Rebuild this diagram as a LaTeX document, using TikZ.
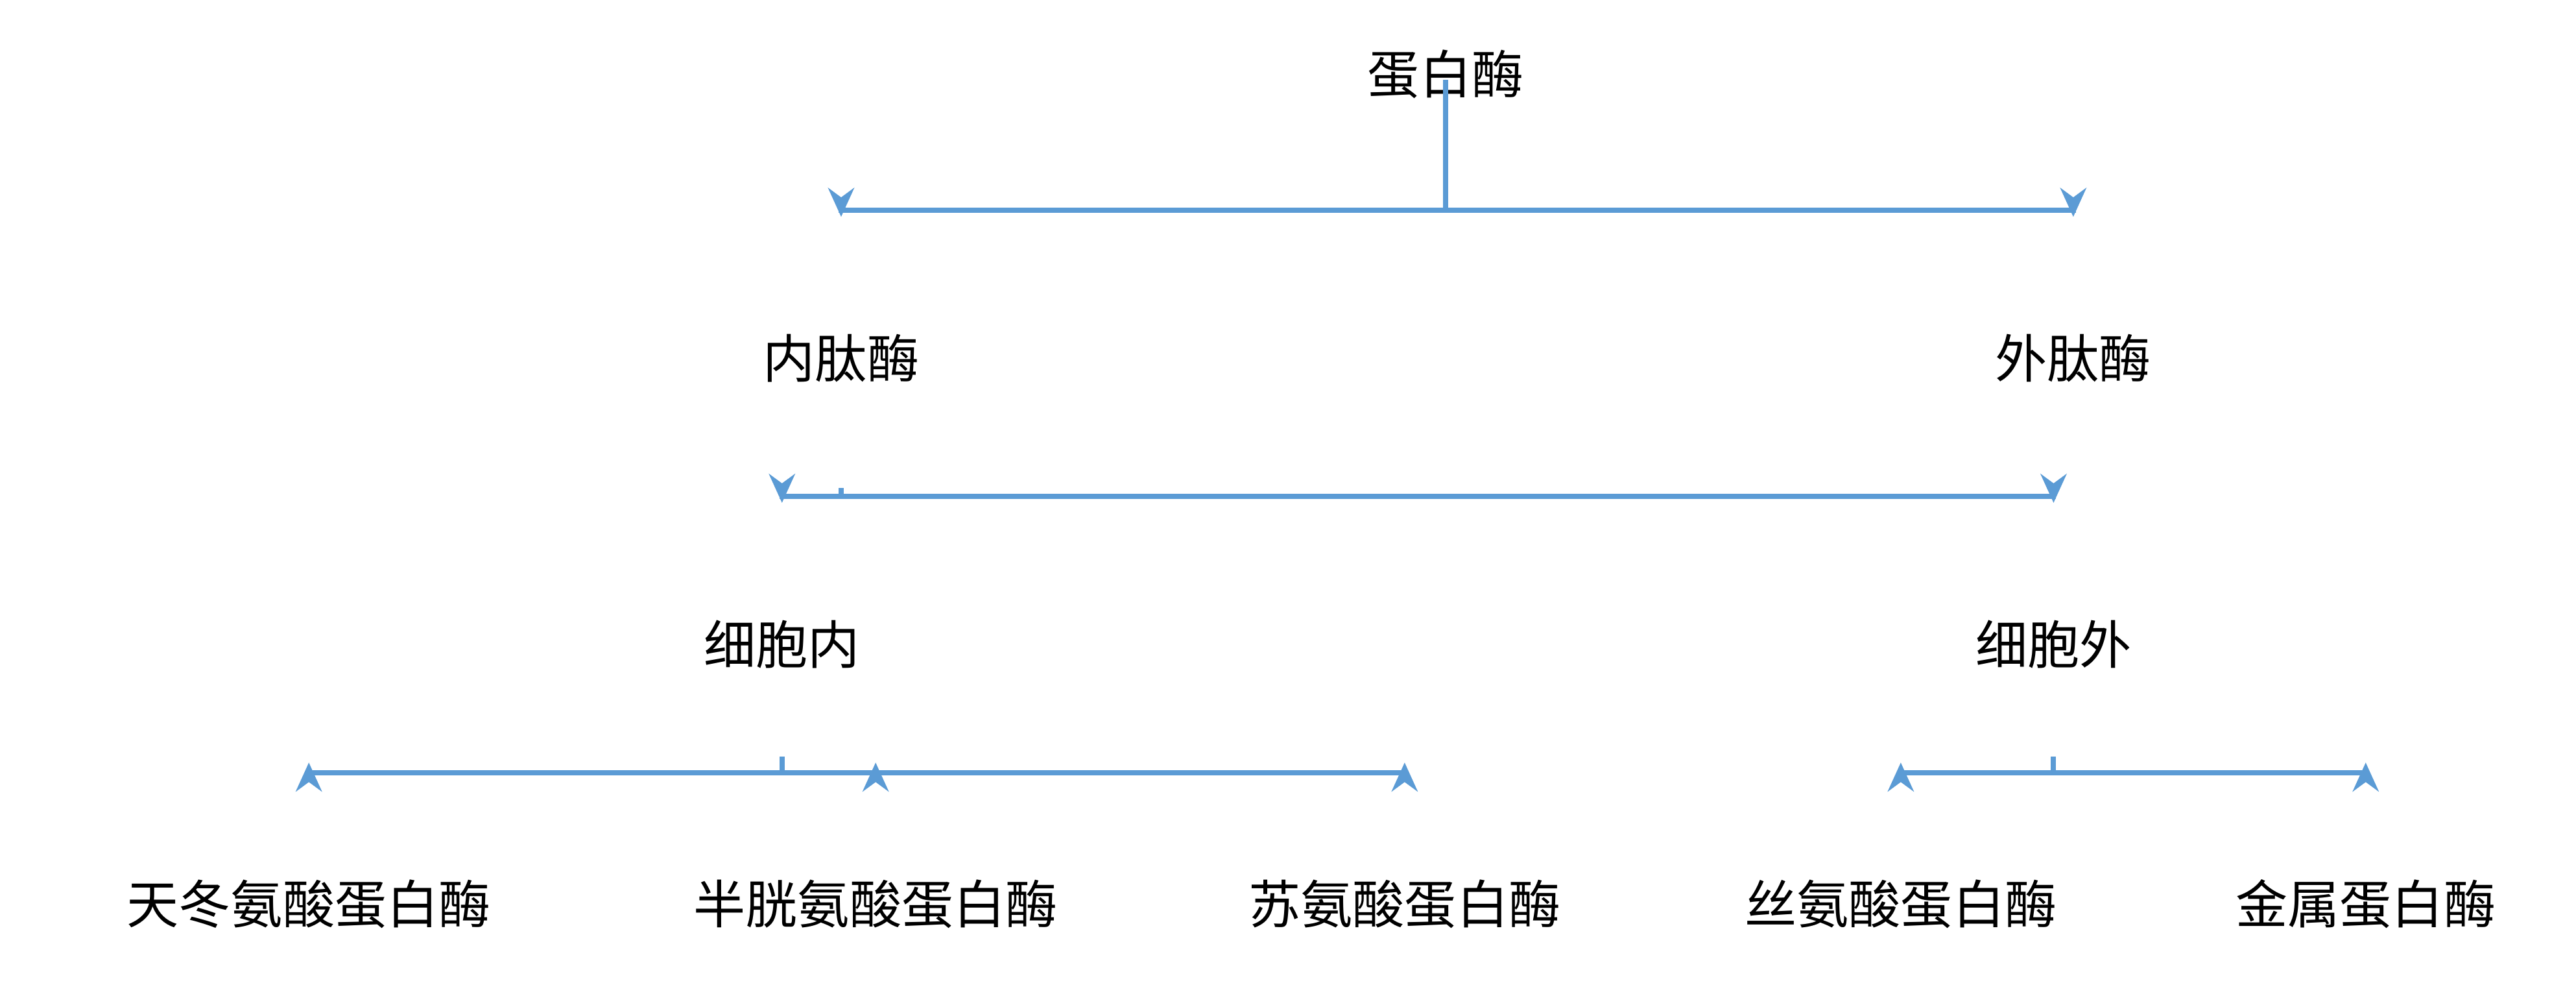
\documentclass[tikz,border=0pt]{standalone}
\usepackage{fontspec}
\setmainfont{Noto Sans CJK SC}
\usetikzlibrary{arrows.meta}
\definecolor{linkblue}{RGB}{91,155,213}
\begin{document}
\begin{tikzpicture}[x=0.01cm,y=-0.01cm,>={Stealth[length=5pt,width=4.5pt]},
  lbl/.style={font=\fontsize{9pt}{9pt}\selectfont,inner sep=0pt,minimum height=0.3cm},
  link/.style={linkblue,line width=0.9pt}]
\useasboundingbox (0,0) rectangle (1568,598);
% labels
\node[lbl] (root) at (880,45) {蛋白酶};
\node[lbl] (endo) at (512,218) {内肽酶};
\node[lbl] (exo) at (1262,218) {外肽酶};
\node[lbl] (intra) at (476,392) {细胞内};
\node[lbl] (extra) at (1250,392) {细胞外};
\node[lbl] (asp) at (188,550) {天冬氨酸蛋白酶};
\node[lbl] (cys) at (533,550) {半胱氨酸蛋白酶};
\node[lbl] (thr) at (855,550) {苏氨酸蛋白酶};
\node[lbl] (ser) at (1157,550) {丝氨酸蛋白酶};
\node[lbl] (metal) at (1440,550) {金属蛋白酶};
% junctions
\coordinate (j1) at (880,128);
\coordinate (j2) at (512,302);
\coordinate (j3) at (476,470);
\coordinate (j4) at (1250,470);
% connectors
\draw[link] (root.south) ++(0,-12) -- (j1);
\draw[link,->] (j1) -| ([yshift=20]endo.north);
\draw[link,->] (j1) -| ([yshift=20]exo.north);
\draw[link] ([yshift=-18]endo.south) -- (j2);
\draw[link,->] (j2) -| ([yshift=20]intra.north);
\draw[link,->] (j2) -| ([yshift=20]extra.north);
\draw[link] ([yshift=-15]intra.south) -- (j3);
\draw[link,->] (j3) -| ([yshift=20]asp.north);
\draw[link,->] (j3) -| ([yshift=20]cys.north);
\draw[link,->] (j3) -| ([yshift=20]thr.north);
\draw[link] ([yshift=-15]extra.south) -- (j4);
\draw[link,->] (j4) -| ([yshift=20]ser.north);
\draw[link,->] (j4) -| ([yshift=20]metal.north);
\end{tikzpicture}
\end{document}
